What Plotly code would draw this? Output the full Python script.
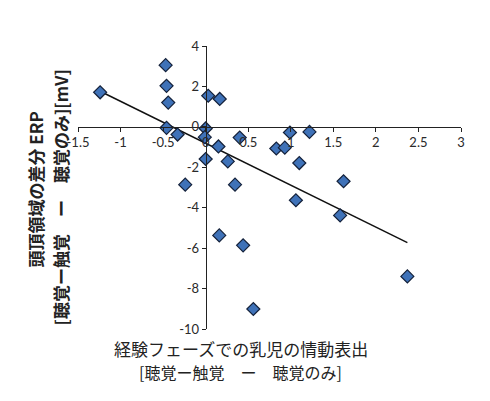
import plotly.graph_objects as go

# Data
x_vals = [-1.24, -0.47, -0.46, -0.44, -0.46, -0.33, 0.0, -0.01, 0.03, 0.165,
          0.15, 0.0, 0.26, 0.40, 0.83, -0.24, 0.345, 0.99, 1.22, 0.93,
          1.10, 1.62, 0.16, 0.44, 0.56, 1.06, 1.58, 2.37]
y_vals = [1.71, 3.05, 2.03, 1.20, -0.05, -0.38, -0.08, -0.51, 1.54, 1.38,
          -0.97, -1.59, -1.71, -0.53, -1.07, -2.86, -2.86, -0.28, -0.25, -1.03,
          -1.79, -2.69, -5.37, -5.86, -9.01, -3.63, -4.38, -7.40]
trend_x = [-1.24, 2.37]
trend_y = [1.76, -5.73]

x_ticks = [-1.5, -1, -0.5, 0, 0.5, 1, 1.5, 2, 2.5, 3]
x_tick_text = ["-1.5", "-1", "-0.5", "0", "0.5", "1", "1.5", "2", "2.5", "3"]
y_ticks = [-10, -8, -6, -4, -2, 0, 2, 4]
y_tick_text = ["-10", "-8", "-6", "-4", "-2", "0", "2", "4"]

x_range = [-1.5, 3]
y_range = [-10, 4]

y_title_1 = "<b>頭頂領域の差分 ERP</b>"
y_title_2 = "<b>[聴覚ー触覚　ー　聴覚のみ][mV]</b>"
x_title_1 = "経験フェーズでの乳児の情動表出"
x_title_2 = "[聴覚ー触覚　ー　聴覚のみ]"

fig = go.Figure()
fig.add_trace(go.Scatter(
    x=trend_x, y=trend_y, mode="lines",
    line=dict(color="#111111", width=1.5), hoverinfo="skip", showlegend=False))
fig.add_trace(go.Scatter(
    x=x_vals, y=y_vals, mode="markers",
    marker=dict(symbol="diamond", size=10, color="#3F72B8",
                line=dict(color="#14213A", width=1.2)),
    showlegend=False))

tick_font = dict(family="Lato, 'Liberation Sans', sans-serif", size=13, color="#2a2a2a")

fig.update_layout(
    width=490, height=401,
    margin=dict(l=78, r=29, t=46, b=72),
    paper_bgcolor="white", plot_bgcolor="white",
    xaxis=dict(range=x_range, tickvals=x_ticks, ticktext=x_tick_text,
               anchor="free", position=(0 - y_range[0]) / (y_range[1] - y_range[0]),
               showgrid=False, zeroline=False, showline=True, linecolor="#222222",
               linewidth=1, ticks="outside", ticklen=4, tickcolor="#222222",
               tickfont=tick_font),
    yaxis=dict(range=y_range, tickvals=y_ticks, ticktext=y_tick_text,
               anchor="free", position=(0 - x_range[0]) / (x_range[1] - x_range[0]),
               showgrid=False, zeroline=False, showline=True, linecolor="#222222",
               linewidth=1, ticks="outside", ticklen=4, tickcolor="#222222",
               tickfont=tick_font, domain=[0, 1]),
)

cjk = "'Noto Sans CJK JP', sans-serif"
fig.add_annotation(text=y_title_1, xref="paper", yref="paper", x=0, y=0.5,
                   xanchor="center", yanchor="middle", xshift=-43, yshift=-2,
                   textangle=-90, showarrow=False,
                   font=dict(family=cjk, size=17, color="#222222"))
fig.add_annotation(text=y_title_2, xref="paper", yref="paper", x=0, y=0.5,
                   xanchor="center", yanchor="middle", xshift=-18, yshift=-10,
                   textangle=-90, showarrow=False,
                   font=dict(family=cjk, size=17, color="#222222"))
fig.add_annotation(text=x_title_1, xref="paper", yref="paper", x=0, y=0,
                   xanchor="center", yanchor="middle", xshift=163, yshift=-19,
                   showarrow=False, font=dict(family=cjk, size=17, color="#222222"))
fig.add_annotation(text=x_title_2, xref="paper", yref="paper", x=0, y=0,
                   xanchor="center", yanchor="middle", xshift=162, yshift=-43,
                   showarrow=False, font=dict(family=cjk, size=16, color="#222222"))

fig.write_html("out.html")
